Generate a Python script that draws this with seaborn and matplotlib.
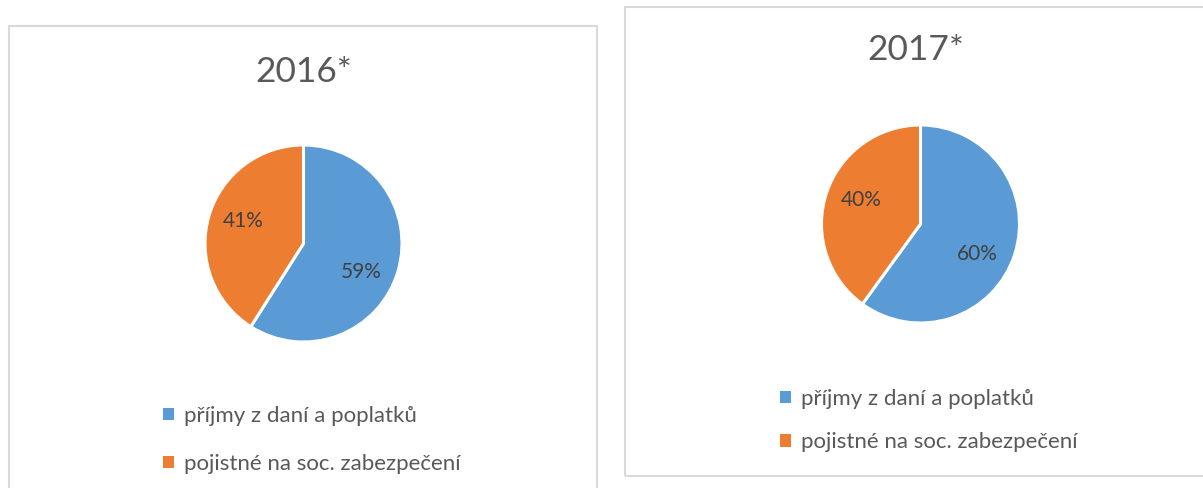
import matplotlib
matplotlib.use("Agg")
import numpy as np
import matplotlib.pyplot as plt
from matplotlib.patches import Rectangle
import seaborn as sns

# data
years = ["2016*", "2017*"]
categories = ["příjmy z daní a poplatků", "pojistné na soc. zabezpečení"]
shares_2016 = [59, 41]
shares_2017 = [60, 40]

sns.set_theme(style="white")
plt.rcParams['font.family'] = ['Lato', 'DejaVu Sans']

colors = ["#5B9BD5", "#ED7D31"]
text_grey = "#595959"

W, H = 1203, 488
fig = plt.figure(figsize=(W / 100, H / 100), dpi=100)


def fx(x):
    return x / W


def fy(y):
    return 1 - y / H


# panel frames (pixel boxes: left, top, right, bottom)
panels = [(9, 26, 597, 500), (625, 7, 1210, 476)]
for l, t, r, b in panels:
    fig.patches.append(Rectangle((fx(l), fy(b)), fx(r - l), (b - t) / H,
                                 transform=fig.transFigure, fill=False,
                                 edgecolor="#D9D9D9", linewidth=1.5))

# layout per panel: pie centre, radius, title centre, legend top-left, row gap
layout = [
    dict(cx=303.5, cy=243.5, r=98.5, tx=304, ty=72, lx=143, ly=386, gap=1.25),
    dict(cx=920.5, cy=224, r=99, tx=916, ty=50, lx=760, ly=369, gap=1.05),
]
# small angular nudge of the percent labels (degrees), like the Excel placement
label_turn = [-10, -4]

for year, shares, lay in zip(years, [shares_2016, shares_2017], layout):
    r = lay["r"]
    ax = fig.add_axes([fx(lay["cx"] - r), fy(lay["cy"] + r), 2 * r / W, 2 * r / H])
    wedges, _, autotexts = ax.pie(
        shares, colors=colors, startangle=90, counterclock=False,
        autopct=lambda p: f"{round(p)}%", pctdistance=0.65,
        wedgeprops=dict(edgecolor="white", linewidth=2.2),
        textprops=dict(color="#404040", fontsize=15))
    for t, turn in zip(autotexts, label_turn):
        x, y = t.get_position()
        ang = np.arctan2(y, x) + np.radians(turn)
        d = np.hypot(x, y)
        t.set_position((d * np.cos(ang), d * np.sin(ang)))
    ax.set_xlim(-1, 1)
    ax.set_ylim(-1, 1)
    ax.set_aspect("equal")
    ax.axis("off")

    fig.text(fx(lay["tx"]), fy(lay["ty"]), year, ha="center", va="center",
             fontsize=25.5, color=text_grey)

    leg = ax.legend(wedges, categories, loc="upper left",
                    bbox_to_anchor=(fx(lay["lx"]), fy(lay["ly"])),
                    bbox_transform=fig.transFigure, frameon=False,
                    fontsize=16, handlelength=0.5, handleheight=0.5,
                    handletextpad=0.45, labelspacing=lay["gap"])
    for txt in leg.get_texts():
        txt.set_color(text_grey)
    for h in leg.legend_handles:
        h.set_edgecolor("none")

fig.savefig("out.png", dpi=100)
